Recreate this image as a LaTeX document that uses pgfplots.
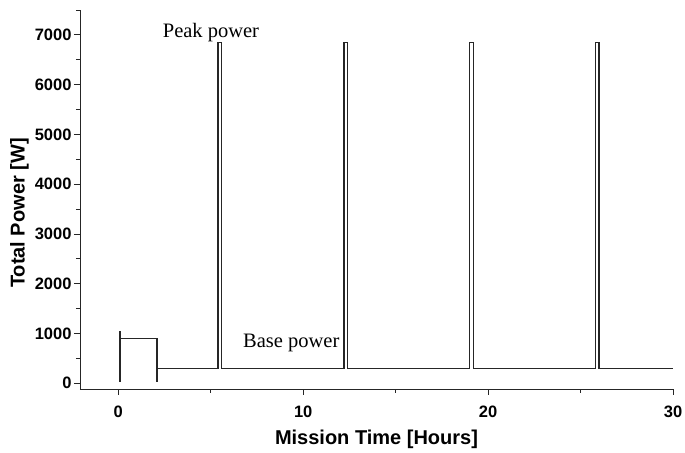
\documentclass[border=0pt]{standalone}
\usepackage{pgfplots}
\pgfplotsset{compat=1.18}
\usepackage{fontspec}
\setmainfont{Liberation Serif}
\setsansfont{Liberation Sans}
\begin{document}
\begin{tikzpicture}
\begin{axis}[
  name=ax,
  scale only axis,
  width=593pt, height=379pt,
  xmin=-2.07, xmax=30,
  ymin=-115, ymax=7500,
  axis lines=left,
  axis line style={-, line width=0.9pt, black!85},
  tick align=outside,
  tick style={line width=0.9pt, black!85},
  major tick length=6pt,
  minor tick length=4pt,
  xtick={0,10,20,30},
  minor xtick={5,15,25},
  ytick={0,1000,2000,3000,4000,5000,6000,7000},
  minor ytick={500,1500,2500,3500,4500,5500,6500,7500},
  /pgf/number format/assume math mode=true,
  /pgf/number format/1000 sep={},
  tick label style={font=\sffamily\bfseries\fontsize{16.5}{18}\selectfont},
  xticklabel style={yshift=-7pt},
  yticklabel style={xshift=1pt},
  xlabel={Mission Time [Hours]},
  ylabel={Total Power [W]},
  label style={font=\sffamily\bfseries\fontsize{20}{22}\selectfont},
  xlabel style={yshift=-6pt},
  ylabel style={at={(ticklabel cs:0.464)}, yshift=-1pt},
  clip=false,
]
\addplot[black!85, line width=1.3pt] coordinates {(0.1,30) (0.1,1050)};
\addplot[black!85, line width=1.3pt] coordinates {(0.1,900) (2.1,900) (2.1,30)};
\addplot[black!85, line width=1.3pt, line join=miter] coordinates {
(2.1,290) (5.4,290) (5.4,6850) (5.6,6850) (5.6,290)
(12.2,290) (12.2,6850) (12.4,6850) (12.4,290)
(19.0,290) (19.0,6850) (19.2,6850) (19.2,290)
(25.8,290) (25.8,6850) (26.0,6850) (26.0,290)
(30.0,290)};
\node[anchor=base west, inner sep=0pt, font=\fontsize{20.5}{24}\selectfont] at (axis cs:2.4,6943) {Peak power};
\node[anchor=base east, inner sep=0pt, font=\fontsize{20.5}{24}\selectfont] at (axis cs:11.97,716) {Base power};
\end{axis}
\pgfresetboundingbox
\path[use as bounding box] ([shift={(-80pt,-64pt)}]ax.south west) rectangle ([shift={(12pt,10pt)}]ax.north east);
\end{tikzpicture}
\end{document}
